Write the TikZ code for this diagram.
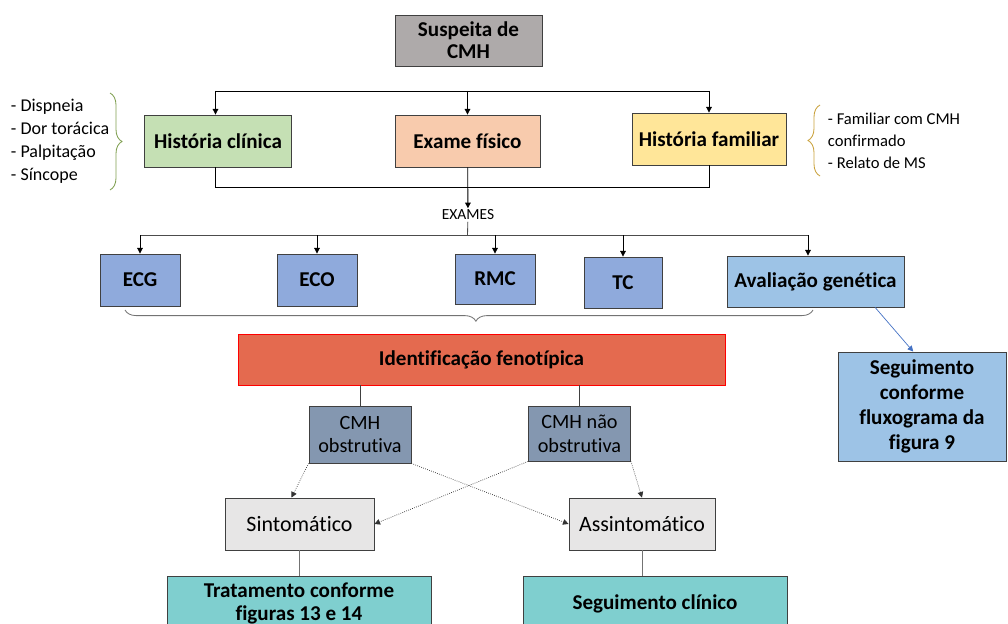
\documentclass[tikz,border=0pt]{standalone}
\usepackage{fontspec}
\setmainfont{Carlito}[Ligatures=CommonOff]
\usetikzlibrary{arrows.meta, decorations.pathreplacing, positioning}

\definecolor{boxgray}{HTML}{AEAAAA}
\definecolor{boxgreen}{HTML}{C5E0B4}
\definecolor{boxpeach}{HTML}{F8CBAD}
\definecolor{boxyellow}{HTML}{FFE699}
\definecolor{boxblue}{HTML}{8FAADC}
\definecolor{boxlightblue}{HTML}{9DC3E6}
\definecolor{boxred}{HTML}{E46A4F}
\definecolor{boxslate}{HTML}{8497B0}
\definecolor{boxlight}{HTML}{E7E6E6}
\definecolor{boxteal}{HTML}{7FCFCF}
\definecolor{bracegreen}{HTML}{7F9F50}
\definecolor{bracegold}{HTML}{C9A13C}
\definecolor{arrowblue}{HTML}{4472C4}

\begin{document}
\begin{tikzpicture}
    [
        x=0.025cm, y=-0.025cm,
        box/.style={rectangle, draw=black!75, line width=0.6pt, align=center,
            font=\fontsize{15}{15.8}\selectfont\bfseries},
        plainbox/.style={box, font=\fontsize{14.4}{17}\selectfont},
        link/.style={draw=black, line width=0.6pt},
        arrow/.style={link, -{Triangle[width=4pt, length=4pt]}},
        dotarrow/.style={draw=black!80, line width=0.5pt, densely dotted,
            -{Triangle[width=4pt, length=4pt]}},
        brace/.style={decorate, line width=0.6pt},
    ]
    \useasboundingbox (0,0) rectangle (1008,624);
    \clip (0,0) rectangle (1008,624);

    % top part
    \node (suspeita) at (468.5,40.5) [box, fill=boxgray, minimum width=3.675cm, minimum height=1.275cm] {Suspeita de\\CMH};
    \node (historia clinica) at (218,141) [box, fill=boxgreen, minimum width=3.675cm, minimum height=1.3cm] {História clínica};
    \node (exame fisico) at (467.5,141) [box, fill=boxpeach, minimum width=3.625cm, minimum height=1.3cm] {Exame físico};
    \node (historia familiar) at (709,139) [box, fill=boxyellow, minimum width=3.85cm, minimum height=1.3cm] {História familiar};

    \node (sintomas) at (6,141.5) [anchor=west, align=left, font=\fontsize{12.8}{16.3}\selectfont] {- Dispneia\\- Dor torácica\\- Palpitação\\- Síncope};
    \node (familia) at (823,141) [anchor=west, align=left, font=\fontsize{11.8}{15.6}\selectfont] {- Familiar com CMH\\confirmado\\- Relato de MS};
    \draw[brace, draw=bracegreen, decoration={brace, amplitude=0.3cm}] (110,93) -- (110,190);
    \draw[brace, draw=bracegold, decoration={brace, amplitude=0.3cm}] (820,176) -- (820,105);

    \coordinate (bar left) at (215.5,91);
    \coordinate (bar right) at (709,91);
    \draw[link] (bar left) -- (bar right);
    \draw[arrow] (bar left) -- (bar left |- historia clinica.north);
    \draw[arrow] (exame fisico |- bar left) -- (exame fisico);
    \draw[arrow] (bar right) -- (historia familiar);
    \draw[link] (bar left |- historia clinica.south) -- ++(0,20) -| (historia familiar.south);

    % exames
    \node (exames) at (468,215) [inner sep=1pt, font=\fontsize{11}{12}\selectfont] {EXAMES};
    \draw[arrow] (exame fisico) -- (exames);

    \node (ecg) at (140,280) [box, fill=boxblue, minimum width=2cm, minimum height=1.3cm] {ECG};
    \node (eco) at (317,280) [box, fill=boxblue, minimum width=2cm, minimum height=1.3cm] {ECO};
    \node (rmc) at (495,279) [box, fill=boxblue, minimum width=2cm, minimum height=1.25cm] {RMC};
    \node (tc) at (623,282.5) [box, fill=boxblue, minimum width=1.95cm, minimum height=1.275cm] {TC};
    \node (avaliacao) at (815.5,281.5) [box, fill=boxlightblue, minimum width=4.425cm, minimum height=1.275cm] {Avaliação genética};

    \coordinate (exam bar) at (467.5,235);
    \coordinate (exam bar right) at (808,235);
    \draw[link, draw=black!70] (exames) -- (exam bar);
    \draw[link, draw=black!70] (ecg |- exam bar) -- (exam bar right);
    \draw[arrow] (ecg |- exam bar) -- (ecg);
    \draw[arrow] (eco |- exam bar) -- (eco);
    \draw[arrow] (rmc |- exam bar) -- (rmc);
    \draw[arrow] (tc |- exam bar) -- (tc);
    \draw[arrow] (exam bar right) -- (exam bar right |- avaliacao.north);

    \draw[brace, draw=black!55, decoration={brace, amplitude=0.28cm, aspect=0.49}] (813,310) -- (125,310);

    % fenotipo
    \node (identificacao) at (481.5,359.5) [box, draw=red, fill=boxred, minimum width=12.175cm, minimum height=1.275cm] {Identificação fenotípica};
    \node (seguimento figura) at (922,406.5) [box, fill=boxlightblue, minimum width=4.2cm, minimum height=2.725cm, font=\fontsize{15}{17.8}\selectfont\bfseries] {Seguimento\\conforme\\fluxograma da\\figura 9};
    \draw[draw=arrowblue, line width=0.5pt, -{Triangle[width=4pt, length=4pt]}] ([xshift=1.49cm]avaliacao.south) -- ([xshift=-0.22cm]seguimento figura.north);

    \node (cmh obstrutiva) at (360,434.5) [plainbox, fill=boxslate, minimum width=2.55cm, minimum height=1.425cm] {CMH\\obstrutiva};
    \node (cmh nao obstrutiva) at (579.5,433.5) [plainbox, fill=boxslate, minimum width=2.55cm, minimum height=1.375cm] {CMH não\\obstrutiva};
    \draw[link, draw=black!75] (identificacao.south -| cmh obstrutiva) -- (cmh obstrutiva);
    \draw[link, draw=black!75] (identificacao.south -| cmh nao obstrutiva) -- (cmh nao obstrutiva);

    \node (sintomatico) at (299.5,524) [plainbox, fill=boxlight, minimum width=3.725cm, minimum height=1.3cm, font=\fontsize{15.6}{17}\selectfont] {Sintomático};
    \node (assintomatico) at (642,524) [plainbox, fill=boxlight, minimum width=3.65cm, minimum height=1.3cm, font=\fontsize{15.6}{17}\selectfont] {Assintomático};
    \draw[dotarrow] (cmh obstrutiva.south west) -- ([xshift=-0.2cm]sintomatico.north);
    \draw[dotarrow] (cmh obstrutiva.south east) -- (assintomatico.west);
    \draw[dotarrow] (cmh nao obstrutiva.south west) -- (sintomatico.east);
    \draw[dotarrow] (cmh nao obstrutiva.south east) -- (assintomatico.north);

    \node (tratamento) at (299,576) [box, fill=boxteal, anchor=north, minimum width=6.6cm, minimum height=1.35cm] {Tratamento conforme\\figuras 13 e 14};
    \node (seguimento clinico) at (655,576) [box, fill=boxteal, anchor=north, minimum width=6.6cm, minimum height=1.35cm] {Seguimento clínico};
    \draw[link, draw=black!55] (sintomatico) -- (sintomatico |- tratamento.north);
    \draw[link, draw=black!55] (assintomatico) -- (assintomatico |- seguimento clinico.north);
\end{tikzpicture}
\end{document}
